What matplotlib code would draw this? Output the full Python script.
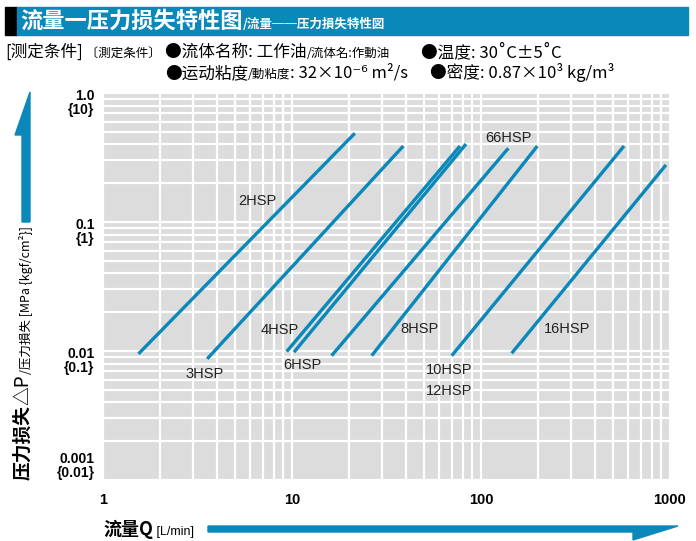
import matplotlib
matplotlib.use("Agg")
import matplotlib.pyplot as plt
import matplotlib.transforms as mtransforms
from matplotlib.patches import Polygon, Rectangle
from matplotlib.ticker import LogLocator, NullFormatter

models = ["2HSP", "3HSP", "4HSP", "6HSP", "66HSP", "8HSP", "10HSP", "16HSP"]
q_start = [1.54, 3.56, 9.37, 10.25, 16.2, 26.4, 70.0, 145.3]
q_end = [21.5, 38.8, 77.4, 83.3, 139.5, 198.6, 571.0, 952.0]
dp_start = [0.0095, 0.0087, 0.0099, 0.0098, 0.0092, 0.0092, 0.0092, 0.0096]
dp_end = [0.487, 0.388, 0.388, 0.402, 0.373, 0.388, 0.388, 0.277]

# label names and where they sit
label_names = ["2HSP", "3HSP", "4HSP", "6HSP", "66HSP", "8HSP", "10HSP", "12HSP", "16HSP"]
label_x = [6.53, 3.46, 8.64, 11.4, 139, 47, 67.7, 67.7, 285]
label_y = [0.1455, 0.00664, 0.01455, 0.00778, 0.448, 0.0148, 0.00713, 0.0049, 0.0148]

y_ticks = [1.0, 0.1, 0.01, 0.001]
y_ticklabels = ["1.0\n{10}", "0.1\n{1}", "0.01\n{0.1}", "0.001\n{0.01}"]
x_ticks = [1, 10, 100, 1000]
x_ticklabels = ["1", "10", "100", "1000"]

BLUE = "#0a88ba"
CJK = ["Noto Sans CJK SC", "DejaVu Sans"]
JP = ["Noto Sans CJK JP", "DejaVu Sans"]
NUM = ["Liberation Sans Narrow", "Liberation Sans", "DejaVu Sans"]

W, H = 696, 541
fig = plt.figure(figsize=(W / 100, H / 100), dpi=100)
renderer = fig.canvas.get_renderer()


def px(x, y):
    return x / W, 1 - y / H


def chain(x, y, pieces, vertical=False, **kw):
    # draw text pieces one after another, measuring each one
    for txt, size, fam, weight, off in pieces:
        if vertical:
            t = fig.text(*px(x + off, y), txt, fontsize=size, family=fam,
                         fontweight=weight, rotation=90, ha="center",
                         va="bottom", **kw)
            y -= t.get_window_extent(renderer).height
        else:
            t = fig.text(*px(x, y + off), txt, fontsize=size, family=fam,
                         fontweight=weight, va="baseline", **kw)
            x += t.get_window_extent(renderer).width


# header bar
fig.patches.append(Rectangle(px(5, 35), 12 / W, 28 / H, transform=fig.transFigure,
                             color="black", zorder=0))
fig.patches.append(Rectangle(px(17, 35), 671 / W, 28 / H, transform=fig.transFigure,
                             color=BLUE, zorder=0))
chain(20, 28, [("流量一压力损失特性图", 16, CJK, "bold", 0),
               ("/流量──压力損失特性図", 9, JP, "bold", 0)], color="white")

# measuring conditions
chain(5, 57, [("[测定条件]", 12, CJK, "normal", 0),
              (" 〔測定条件〕", 9, JP, "normal", 0)])
chain(165, 57, [("●流体名称: 工作油", 12, CJK, "normal", 0),
                ("/流体名:作動油", 9, JP, "normal", 0)])
chain(421, 57, [("●温度: 30˚C±5˚C", 12, CJK, "normal", 0)])
chain(165, 78, [("●运动粘度", 12, CJK, "normal", 0),
                ("/動粘度", 9, JP, "normal", 0),
                (": 32×10⁻⁶ m²/s", 12, CJK, "normal", 0)])
chain(430, 78, [("●密度: 0.87×10³ kg/m³", 12, CJK, "normal", 0)])

# plot area
ax = fig.add_axes([103 / W, 1 - 480 / H, 567 / W, 387 / H])
ax.set_facecolor("#dcdcdc")
ax.set_xscale("log")
ax.set_yscale("log")
ax.set_xlim(1, 1000)
ax.set_ylim(0.001, 1.0)
for s in ax.spines.values():
    s.set_visible(False)
ax.xaxis.set_minor_locator(LogLocator(base=10, subs=range(2, 10)))
ax.yaxis.set_minor_locator(LogLocator(base=10, subs=range(2, 10)))
ax.xaxis.set_minor_formatter(NullFormatter())
ax.yaxis.set_minor_formatter(NullFormatter())
ax.grid(True, which="both", color="white", lw=1.6)
ax.set_axisbelow(True)
ax.tick_params(which="both", length=0)
ax.set_xticks(x_ticks)
ax.set_xticklabels(x_ticklabels, fontsize=10.5, fontweight="bold", family=NUM)
ax.set_yticks(y_ticks)
ax.set_yticklabels(y_ticklabels, fontsize=10, fontweight="bold", family=NUM,
                   linespacing=1.0)
ax.tick_params(axis="x", pad=9)
ax.tick_params(axis="y", pad=6)
lift = mtransforms.ScaledTranslation(0, 3 / 72, fig.dpi_scale_trans)
for t in ax.get_yticklabels()[:-1]:
    t.set_va("top")
    t.set_transform(t.get_transform() + lift)
# keep the bottom label inside
ax.get_yticklabels()[-1].set_va("bottom")

for i in range(len(models)):
    ax.plot([q_start[i], q_end[i]], [dp_start[i], dp_end[i]], color=BLUE,
            lw=2.4, solid_capstyle="butt")

for name, lx, ly in zip(label_names, label_x, label_y):
    ax.text(lx, ly, name, fontsize=10.5, family=NUM, ha="center", va="center",
            color="#222222")

# y axis title and arrow
chain(23, 480, [("压力损失", 13.5, CJK, "bold", 0),
                ("△P", 13.5, CJK, "normal", 0),
                ("/压力損失 [MPa {kgf/cm²}]", 9, JP, "normal", 3)], vertical=True)
up = [px(22, 222), px(30, 222), px(30, 92), px(15, 135), px(22, 135)]
fig.patches.append(Polygon(up, closed=True, transform=fig.transFigure, color=BLUE))

# x axis title and arrow
chain(103, 535, [("流量Q", 13, CJK, "bold", 0),
                 (" [L/min]", 9, NUM, "normal", 0)])
right = [px(208, 526), px(678, 526), px(633, 540), px(633, 532), px(208, 532)]
fig.patches.append(Polygon(right, closed=True, transform=fig.transFigure, color=BLUE))

fig.savefig("out.png", dpi=100)
